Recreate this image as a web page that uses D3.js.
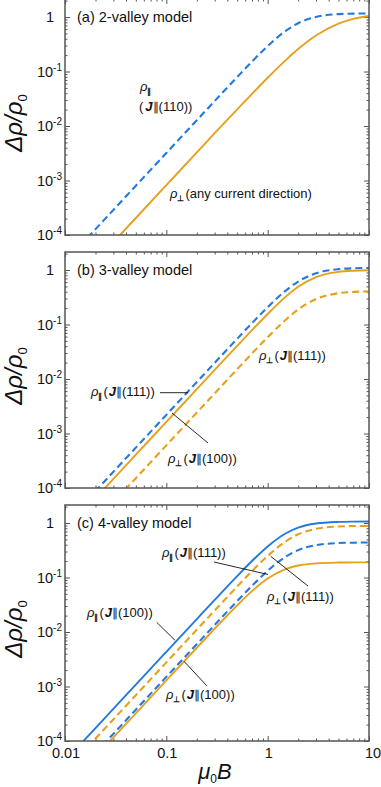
<!DOCTYPE html>
<html>
<head>
<meta charset="utf-8">
<script src="https://cdn.jsdelivr.net/npm/d3@7"></script>
<style>
  body { margin: 0; background: #fff; }
  svg { display: block; }
  text { font-family: "Liberation Sans", Arial, Helvetica, sans-serif; fill: #111; }
</style>
</head>
<body>
<div id="chart"></div>
<script>
const fieldB = [0.01, 0.02, 0.05, 0.1, 0.2, 0.3, 0.5, 0.7, 1, 1.5, 2, 3, 5, 7, 10];

// (a) 2-valley model
const aPar110  = [3.2e-5, 1.28e-4, 8.0e-4, 3.2e-3, 0.0128, 0.0287, 0.0791, 0.152, 0.293, 0.554, 0.770, 1.00, 1.13, 1.154, 1.165];
const aPerpAny = [8.2e-6, 3.28e-5, 2.05e-4, 8.2e-4, 3.28e-3, 7.37e-3, 0.0202, 0.0389, 0.0768, 0.160, 0.258, 0.457, 0.757, 0.924, 1.047];

// (b) 3-valley model
const bPar111  = [2.2e-5, 8.8e-5, 5.5e-4, 2.2e-3, 8.8e-3, 0.0198, 0.0546, 0.106, 0.208, 0.415, 0.614, 0.873, 1.039, 1.077, 1.092];
const bPerp100 = [1.63e-5, 6.52e-5, 4.08e-4, 1.63e-3, 6.52e-3, 0.01466, 0.0405, 0.0787, 0.156, 0.321, 0.492, 0.743, 0.926, 0.972, 0.99];
const bPerp111 = [6.06e-6, 2.42e-5, 1.515e-4, 6.06e-4, 2.424e-3, 5.45e-3, 0.0151, 0.0293, 0.0584, 0.121, 0.189, 0.293, 0.376, 0.397, 0.405];

// (c) 4-valley model
const cPar100  = [4.33e-5, 1.73e-4, 1.083e-3, 4.33e-3, 0.0173, 0.0388, 0.106, 0.2005, 0.372, 0.642, 0.822, 0.978, 1.048, 1.062, 1.067];
const cPerp111 = [2.77e-5, 1.108e-4, 6.93e-4, 2.77e-3, 0.01107, 0.0248, 0.0683, 0.131, 0.249, 0.458, 0.620, 0.782, 0.864, 0.880, 0.887];
const cPar111  = [1.5e-5, 6.0e-5, 3.75e-4, 1.5e-3, 5.99e-3, 0.01346, 0.0369, 0.0703, 0.133, 0.240, 0.318, 0.393, 0.4285, 0.4356, 0.4387];
const cPerp100 = [1.29e-5, 5.16e-5, 3.225e-4, 1.29e-3, 5.14e-3, 0.0115, 0.0308, 0.0562, 0.0959, 0.143, 0.166, 0.182, 0.188, 0.1894, 0.1898];

const panelTitles = ["(a) 2-valley model", "(b) 3-valley model", "(c) 4-valley model"];
const yTickExps = [0, -1, -2, -3, -4];
const xTickLabels = ["0.01", "0.1", "1", "10"];

const blue = "#2478e0";
const orange = "#e6a11c";

const width = 381, height = 787;
const left = 65, right = 369, panelH = 236;
const panelTops = [-1, 252, 505];

const svg = d3.select("#chart").append("svg")
    .attr("width", width).attr("height", height);

const x = d3.scaleLog().domain([0.01, 10]).range([left, right]);

// minor/major tick values
const xMajor = [0.01, 0.1, 1, 10];
const xMinor = [];
[-2, -1, 0].forEach(e => { for (let k = 2; k <= 9; k++) xMinor.push(k * Math.pow(10, e)); });
const yMajor = yTickExps.map(e => Math.pow(10, e));
const yMinor = [];
[-4, -3, -2, -1, 0].forEach(e => { for (let k = 2; k <= 9; k++) { const v = k * Math.pow(10, e); if (v < 2.1) yMinor.push(v); } });

const series = [
    [ {v: aPar110, c: blue, dash: true}, {v: aPerpAny, c: orange, dash: false} ],
    [ {v: bPerp111, c: orange, dash: true}, {v: bPar111, c: blue, dash: true}, {v: bPerp100, c: orange, dash: false} ],
    [ {v: cPar100, c: blue, dash: false}, {v: cPerp111, c: orange, dash: true}, {v: cPar111, c: blue, dash: true}, {v: cPerp100, c: orange, dash: false} ]
];

// rho label: ρ_sub (J ∥ (dir))
function rhoLabel(g, px, py, sub, dir) {
    const t = g.append("text").attr("x", px).attr("y", py).style("font-size", "13px");
    t.append("tspan").style("font-style", "italic").text("ρ");
    t.append("tspan").attr("dy", 3).style("font-size", "8px").style("font-weight", "bold").text(sub);
    if (dir) {
        t.append("tspan").attr("dy", -3).attr("dx", 1).text("(");
        t.append("tspan").attr("dx", 1).style("font-style", "italic").style("font-weight", "bold").text("J");
        t.append("tspan").style("font-size", "12px").text("∥");
        t.append("tspan").text("(" + dir + "))");
    }
    return t;
}

function leader(g, x1, y1, x2, y2) {
    g.append("line").attr("x1", x1).attr("y1", y1).attr("x2", x2).attr("y2", y2)
        .attr("stroke", "#111").attr("stroke-width", 0.9);
}

panelTops.forEach((top, i) => {
    const y = d3.scaleLog().domain([1e-4, 2.14]).range([top + panelH, top]);
    const g = svg.append("g");

    svg.append("clipPath").attr("id", "clip" + i)
        .append("rect").attr("x", left).attr("y", top).attr("width", right - left).attr("height", panelH);

    // ticks on all four sides (inward)
    const tickG = (axis, tx, ty) => {
        const a = g.append("g").attr("transform", `translate(${tx},${ty})`).call(axis);
        a.select(".domain").remove();
        a.selectAll("line").attr("stroke", "#555").attr("stroke-width", 1);
        a.selectAll("text").remove();
    };
    tickG(d3.axisLeft(y).tickValues(yMajor).tickSize(-5), left, 0);
    tickG(d3.axisLeft(y).tickValues(yMinor).tickSize(-2.5), left, 0);
    tickG(d3.axisRight(y).tickValues(yMajor).tickSize(-5), right, 0);
    tickG(d3.axisRight(y).tickValues(yMinor).tickSize(-2.5), right, 0);
    tickG(d3.axisBottom(x).tickValues(xMajor).tickSize(-5), 0, top + panelH);
    tickG(d3.axisBottom(x).tickValues(xMinor).tickSize(-2.5), 0, top + panelH);
    tickG(d3.axisTop(x).tickValues(xMajor).tickSize(-5), 0, top);
    tickG(d3.axisTop(x).tickValues(xMinor).tickSize(-2.5), 0, top);

    // curves
    const line = d3.line()
        .x((d, j) => x(fieldB[j]))
        .y(d => y(d))
        .curve(d3.curveMonotoneX);
    const cg = g.append("g").attr("clip-path", `url(#clip${i})`);
    series[i].forEach(s => {
        cg.append("path").datum(s.v)
            .attr("d", line)
            .attr("fill", "none")
            .attr("stroke", s.c)
            .attr("stroke-width", s.dash ? 2.1 : 1.9)
            .attr("stroke-dasharray", s.dash ? "7,4" : null);
    });

    // frame
    g.append("rect").attr("x", left).attr("y", top).attr("width", right - left).attr("height", panelH)
        .attr("fill", "none").attr("stroke", "#555").attr("stroke-width", 1.5);

    // y tick labels
    yTickExps.forEach(e => {
        const t = g.append("text").attr("y", y(Math.pow(10, e)) + 5).style("font-size", "14.5px");
        if (e === 0) {
            t.attr("x", 54).attr("text-anchor", "end").text("1");
        } else {
            t.attr("x", 62).attr("text-anchor", "end");
            t.append("tspan").text("10");
            t.append("tspan").attr("dy", -6).style("font-size", "10px").text(String(e));
        }
    });

    // y axis title
    const yt = g.append("text")
        .attr("transform", `translate(22,${top + 124}) rotate(-90)`)
        .attr("text-anchor", "middle")
        .style("font-size", "24px");
    yt.append("tspan").style("font-style", "italic").text("Δρ/ρ");
    yt.append("tspan").attr("dy", 5).style("font-size", "13px").text("0");

    // panel title
    g.append("text").attr("x", 77).attr("y", top + 22.5).style("font-size", "14.5px").text(panelTitles[i]);
});

// annotations
const ann = svg.append("g");
// (a)
rhoLabel(ann, 140, 91, "∥", null);
(function () {
    const t = ann.append("text").attr("x", 139).attr("y", 111).style("font-size", "13px");
    t.append("tspan").text("(");
    t.append("tspan").attr("dx", 2).style("font-style", "italic").style("font-weight", "bold").text("J");
    t.append("tspan").style("font-size", "12px").text("∥");
    t.append("tspan").text("(110))");
})();
(function () {
    const t = rhoLabel(ann, 170, 198, "⊥", null);
    t.append("tspan").attr("dy", -3).attr("dx", 1).text("(any current direction)");
})();

// (b)
rhoLabel(ann, 259, 360, "⊥", "111");
rhoLabel(ann, 91, 396, "∥", "111");
leader(ann, 160, 392.7, 188, 392.7);
rhoLabel(ann, 168, 463, "⊥", "100");
leader(ann, 172, 413, 208, 443);

// (c)
rhoLabel(ann, 162, 557, "∥", "111");
leader(ann, 214, 562, 268, 574.5);
rhoLabel(ann, 267, 601, "⊥", "111");
leader(ann, 270.7, 556.3, 308, 586);
rhoLabel(ann, 87, 617, "∥", "100");
leader(ann, 156.7, 622.3, 175, 640.3);
rhoLabel(ann, 166, 699, "⊥", "100");
leader(ann, 184, 661.3, 206.7, 685.7);

// x tick labels
xTickLabels.forEach(l => {
    svg.append("text").attr("x", x(+l) + (l === "10" ? 4 : 1)).attr("y", 758)
        .attr("text-anchor", "middle").style("font-size", "14.5px").text(l);
});

// x axis title
const xt = svg.append("text").attr("x", 215).attr("y", 779).attr("text-anchor", "middle").style("font-size", "22px");
xt.append("tspan").style("font-style", "italic").text("μ");
xt.append("tspan").attr("dy", 4).style("font-size", "12px").text("0");
xt.append("tspan").attr("dy", -4).style("font-style", "italic").text("B");
</script>
</body>
</html>
